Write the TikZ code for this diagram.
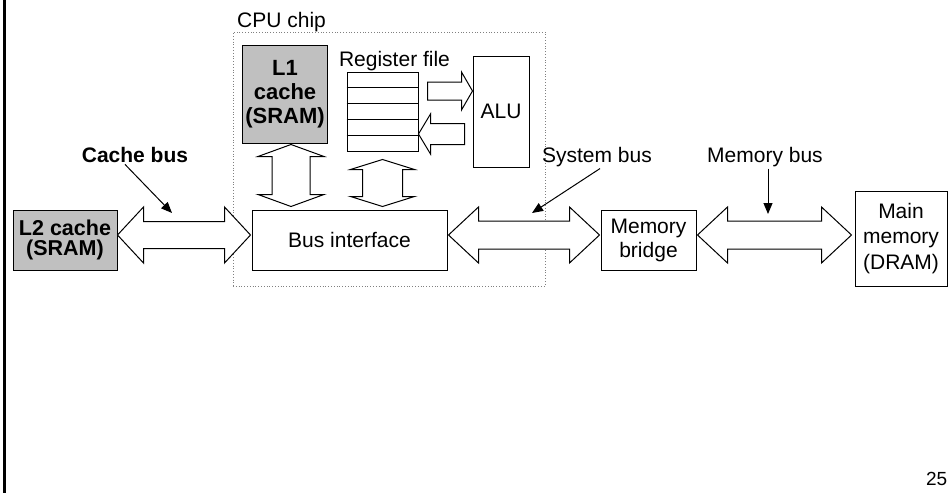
\documentclass[tikz,border=0pt]{standalone}
\usepackage{fontspec}
\setmainfont{Liberation Sans}
\usetikzlibrary{calc,arrows.meta}
\definecolor{cachegray}{RGB}{192,192,192}
% horizontal double block arrow: tips #1,#2 ; head length #3, head half #4, shaft half #5
\newcommand\hdbl[5]{\draw[blk] let \p1=(#1), \p2=(#2) in
 (\x1,\y1) -- (\x1+#3pt,\y1+#4pt) -- (\x1+#3pt,\y1+#5pt) -- (\x2-#3pt,\y1+#5pt) -- (\x2-#3pt,\y1+#4pt) -- (\x2,\y1)
 -- (\x2-#3pt,\y1-#4pt) -- (\x2-#3pt,\y1-#5pt) -- (\x1+#3pt,\y1-#5pt) -- (\x1+#3pt,\y1-#4pt) -- cycle;}
% vertical double block arrow: tips #1 (top), #2 (bottom)
\newcommand\vdbl[5]{\draw[blk] let \p1=(#1), \p2=(#2) in
 (\x1,\y1) -- (\x1+#4pt,\y1-#3pt) -- (\x1+#5pt,\y1-#3pt) -- (\x1+#5pt,\y2+#3pt) -- (\x1+#4pt,\y2+#3pt) -- (\x1,\y2)
 -- (\x1-#4pt,\y2+#3pt) -- (\x1-#5pt,\y2+#3pt) -- (\x1-#5pt,\y1-#3pt) -- (\x1-#4pt,\y1-#3pt) -- cycle;}
% horizontal single block arrow: tail #1, tip #2, signed head length #3
\newcommand\hsgl[5]{\draw[blk] let \p1=(#1), \p2=(#2), \n1={#3*1pt} in
 (\x1,\y1+#5pt) -- (\x2-\n1,\y1+#5pt) -- (\x2-\n1,\y1+#4pt) -- (\x2,\y1)
 -- (\x2-\n1,\y1-#4pt) -- (\x2-\n1,\y1-#5pt) -- (\x1,\y1-#5pt) -- cycle;}
\begin{document}
\begin{tikzpicture}[x=1pt,y=-1pt,
  box/.style={draw,line width=1pt,inner sep=0pt,align=center,font=\fontsize{21}{24}\selectfont},
  gbox/.style={box,fill=cachegray,font=\fontsize{22}{24}\selectfont\bfseries},
  blk/.style={draw,line width=1pt,fill=white,line join=miter},
  lbl/.style={inner sep=0pt,font=\fontsize{21}{24}\selectfont},
  ptr/.style={line width=1pt,-{Triangle[length=11pt,width=9pt]}}]
\useasboundingbox (0,0) rectangle (948,493);
\fill[black] (3.2,0) rectangle (5.8,493);

% CPU chip outline
\node[draw=gray,dotted,line width=0.8pt,minimum width=312pt,minimum height=254pt,inner sep=0pt] (cpu) at (389,159) {};
\node[lbl,anchor=base west] (cpulbl) at (237,27) {CPU chip};

% boxes
\node[gbox,minimum width=104pt,minimum height=60pt,font=\fontsize{21.5}{19.5}\selectfont\bfseries] (l2) at (65,240) {L2 cache\\(SRAM)};
\node[gbox,minimum width=85pt,minimum height=98pt] (l1) at (285,94) {L1\\cache\\(SRAM)};
\node[box,minimum width=71pt,minimum height=79pt] (rf) at (382.5,111.5) {};
\foreach \i in {1,...,4}{
  \draw[line width=1pt] ($(rf.north west)!\i/5!(rf.south west)$) -- ($(rf.north east)!\i/5!(rf.south east)$);}
\node[lbl,anchor=base] (rflbl) at (394.5,66) {Register file};
\node[box,minimum width=56pt,minimum height=111pt] (alu) at (501,111.5) {ALU};
\node[box,minimum width=195pt,minimum height=60pt] (bi) at (349.5,240) {Bus interface};
\node[box,minimum width=95pt,minimum height=60pt] (mb) at (648.5,240) {Memory\\bridge};
\node[box,minimum width=92pt,minimum height=95pt,font=\fontsize{21}{25.5}\selectfont] (mm) at (901,238.5) {Main\\memory\\(DRAM)};

% bus block arrows
\coordinate (cbL) at ($(l2.east)+(0,-5)$);
\coordinate (cbR) at ($(bi.west)+(-1,-5)$);
\hdbl{cbL}{cbR}{26}{28}{13.5}
\coordinate (sbL) at ($(bi.east)+(1,-5)$);
\coordinate (sbR) at ($(mb.west)+(-1,-5)$);
\hdbl{sbL}{sbR}{30}{28}{14}
\coordinate (mbL) at ($(mb.east)+(1,-5)$);
\coordinate (mbR) at ($(mm.west)+(-3,-3.5)$);
\hdbl{mbL}{mbR}{30}{28}{14}

% internal block arrows
\coordinate (l1T) at ($(l1.south)+(6,1)$);
\coordinate (l1B) at ($(l1.south|-bi.north)+(6,-3)$);
\vdbl{l1T}{l1B}{12}{33}{19}
\coordinate (rfT) at ($(rf.south)+(0,8)$);
\coordinate (rfB) at ($(rf.south|-bi.north)+(0,-3)$);
\vdbl{rfT}{rfB}{10}{32}{20}
\coordinate (raT) at ($(rf.east)+(9,-20.5)$);
\coordinate (raH) at (alu.west|-raT);
\hsgl{raT}{raH}{11}{19}{9}
\coordinate (arH) at ($(rf.east)+(0,22.5)$);
\coordinate (arT) at ($(alu.west|-arH)+(-8,0)$);
\hsgl{arT}{arH}{-12}{20}{10.5}

% bus labels and pointers
\node[lbl,anchor=base,font=\fontsize{21}{24}\selectfont\bfseries] (cbus) at (135,162) {Cache bus};
\coordinate (cbP) at (172,213);
\draw[ptr] ($(cbus.south)+(-10,2)$) -- (cbP);
\node[lbl,anchor=base] (sbus) at (597,162) {System bus};
\coordinate (sbP) at (532,213);
\draw[ptr] ($(sbus.south)+(3,2)$) -- (sbP);
\node[lbl,anchor=base] (mbus) at (765,162) {Memory bus};
\coordinate (mbP) at (768,214);
\draw[ptr] ($(mbus.south)+(3,2)$) -- (mbP);

\node[lbl,anchor=base east,font=\fontsize{19}{22}\selectfont] (pg) at (947.5,485) {25};
\end{tikzpicture}
\end{document}
